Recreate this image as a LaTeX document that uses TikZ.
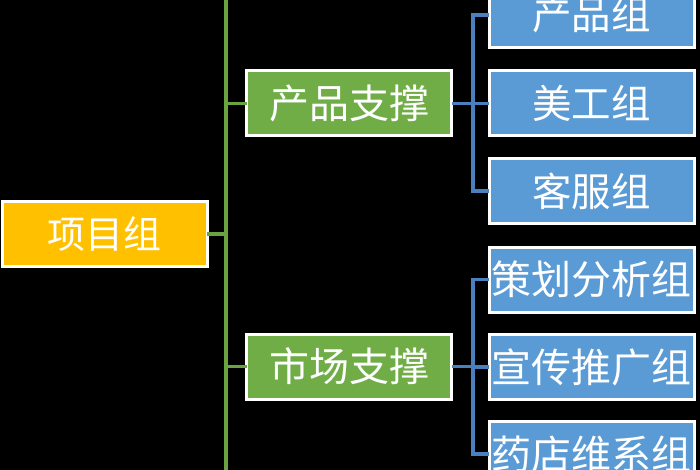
\documentclass[tikz,border=0pt]{standalone}
\usepackage{fontspec}
\newfontfamily\cjk{Noto Sans CJK SC}
\definecolor{orgfill}{HTML}{FFC000}
\definecolor{grnfill}{HTML}{70AD47}
\definecolor{bluefill}{HTML}{5B9BD5}
\definecolor{grnline}{HTML}{6AA442}
\definecolor{blueline}{HTML}{4A80BE}
\tikzset{
  box/.style={draw=white, line width=3pt, text=white, inner sep=0pt, minimum width=205pt, minimum height=65pt},
  rootbox/.style={box, fill=orgfill, font=\cjk\fontsize{38}{38}\selectfont},
  midbox/.style={box, fill=grnfill, font=\cjk\fontsize{40}{40}\selectfont},
  leafbox/.style={box, fill=bluefill, font=\cjk\fontsize{39.5}{39.5}\selectfont},
  leafwide/.style={box, fill=bluefill, font=\cjk\fontsize{40}{40}\selectfont},
  gline/.style={draw=grnline, line width=3.5pt},
  bline/.style={draw=blueline, line width=3.5pt}
}
\begin{document}
\begin{tikzpicture}[x=1pt,y=-1pt]
\fill[black] (0,0) rectangle (700,470);
\useasboundingbox (0,0) rectangle (700,470);
\clip (0,0) rectangle (700,470);
\coordinate (trunkTop) at (226,-20);
\coordinate (trunkBot) at (226,490);
\coordinate (bA) at (473,0);
\node[rootbox] (root) at (104.5,234) {项目组};
\node[midbox] (ps) at (349,103.5) {产品支撑};
\node[midbox] (ms) at (349,366.5) {市场支撑};
\node[leafbox] (c1) at (591.5,15) {产品组};
\node[leafbox] (c2) at (591.5,103.5) {美工组};
\node[leafbox] (c3) at (591.5,191) {客服组};
\node[leafwide] (d1) at (591.5,279.5) {策划分析组};
\node[leafwide] (d2) at (591.5,367) {宣传推广组};
\node[leafwide] (d3) at (591.5,454) {药店维系组};
\draw[gline] (trunkTop) -- (trunkBot);
\draw[gline] ([xshift=-1.5pt]root.east) -- (root.east -| trunkTop);
\draw[gline] ([xshift=1.5pt]ps.west) -- (ps.west -| trunkTop);
\draw[gline] ([xshift=1.5pt]ms.west) -- (ms.west -| trunkTop);
\draw[bline] ([xshift=-1.5pt]ps.east) -- (ps.east -| bA);
\draw[bline] ([xshift=1.5pt]c1.west) -| (c1.west -| bA) |- ([xshift=1.5pt]c3.west);
\draw[bline] ([xshift=1.5pt]c2.west) -- (c2.west -| bA);
\draw[bline] ([xshift=-1.5pt]ms.east) -- (ms.east -| bA);
\draw[bline] ([xshift=1.5pt]d1.west) -- (d1.west -| bA) -- (d3.west -| bA) -- ([xshift=1.5pt]d3.west);
\draw[bline] ([xshift=1.5pt]d2.west) -- (d2.west -| bA);
\end{tikzpicture}
\end{document}
